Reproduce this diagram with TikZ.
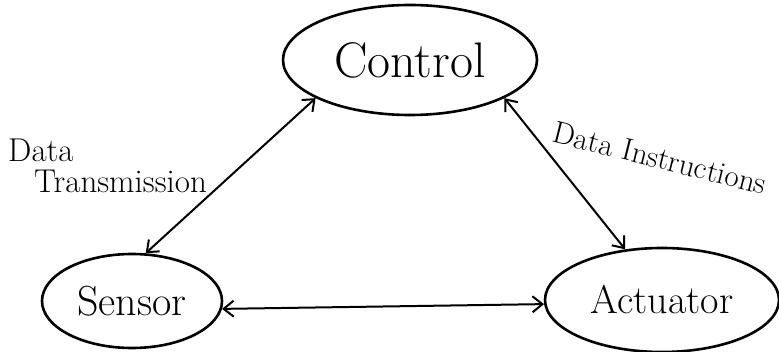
\documentclass[tikz,border=0pt]{standalone}
\usepackage{fontspec}
\usetikzlibrary{shapes.geometric,arrows.meta}
\begin{document}
\begin{tikzpicture}[x=1pt,y=-1pt,
  blob/.style={ellipse,draw,line width=2.6pt,inner sep=0pt},
  link/.style={line width=2pt,{Straight Barb[length=10pt,width=16pt]}-{Straight Barb[length=10pt,width=16pt]}},
  note/.style={inner sep=0pt,font=\fontsize{33}{34}\selectfont}]
  \useasboundingbox (0,0) rectangle (779,352);
  % the three blocks
  \node[blob,minimum width=254pt,minimum height=110pt,font=\fontsize{50}{60}\selectfont] (ctrl) at (410,60) {Control};
  \node[blob,minimum width=180pt,minimum height=94pt,font=\fontsize{42}{50}\selectfont] (sens) at (132,301) {Sensor};
  \node[blob,minimum width=234pt,minimum height=104pt,font=\fontsize{40}{48}\selectfont] (act) at (662,300) {Actuator};
  % connections
  \draw[link] (ctrl.202) -- (sens.74);
  \draw[link] (ctrl.338) -- (act.126);
  \draw[link] (sens.-5) -- (act.182);
  % labels
  \node[note,anchor=west] (ltx) at (8,150) {Data};
  \node[note,anchor=west] (ltx2) at (34,181) {Transmission};
  \node[note,font=\fontsize{31}{32}\selectfont,rotate=-14] (lins) at (660,158) {Data Instructions};
\end{tikzpicture}
\end{document}
